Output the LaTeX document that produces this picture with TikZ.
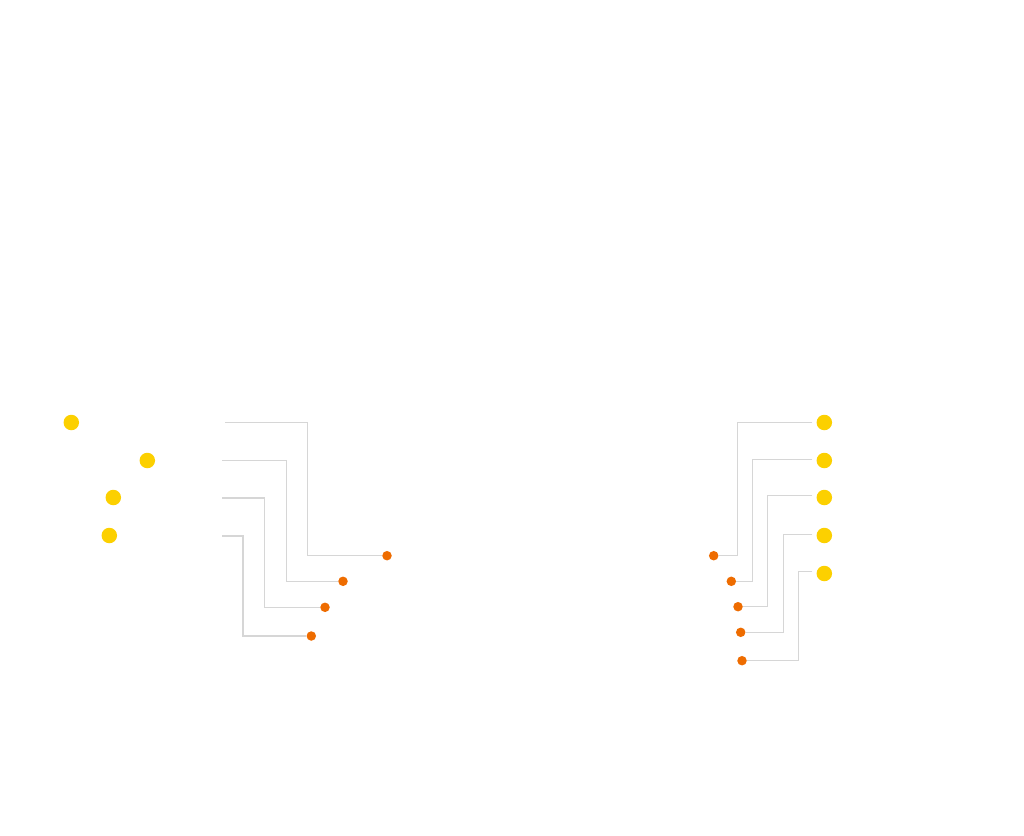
\documentclass[tikz,border=0pt]{standalone}
\begin{document}
\begin{tikzpicture}[x=1pt,y=-1pt,
  bigdot/.style={circle,fill=ydot,draw=none,minimum size=15.5pt,inner sep=0pt},
  smalldot/.style={circle,fill=odot,draw=none,minimum size=9.5pt,inner sep=0pt},
  wire/.style={draw=wiregray,line width=1.1pt}]
\definecolor{ydot}{HTML}{FCD000}
\definecolor{odot}{HTML}{EE6C00}
\definecolor{wiregray}{HTML}{D6D6D6}
\useasboundingbox[fill=white] (0,0) rectangle (1024,835);
% left group
\node[bigdot] (ly1) at (71.3,422.5) {};
\node[bigdot] (ly2) at (147.3,460.5) {};
\node[bigdot] (ly3) at (113.3,497.5) {};
\node[bigdot] (ly4) at (109.3,535.5) {};
\coordinate (ls1) at (225,422.3);
\coordinate (ls2) at (222,460.7);
\coordinate (ls3) at (222,498);
\coordinate (ls4) at (222,536);
\node[smalldot] (lo1) at (387,555.7) {};
\node[smalldot] (lo2) at (343,581.3) {};
\node[smalldot] (lo3) at (325,607.3) {};
\node[smalldot] (lo4) at (311.3,636) {};
\draw[wire] (ls1) -- (307.7,422.3) -- (307.7,555.7) -- (lo1.west);
\draw[wire] (ls2) -- (286.7,460.7) -- (286.7,581.3) -- (lo2.west);
\draw[wire] (ls3) -- (264.3,498) -- (264.3,607.3) -- (lo3.west);
\draw[wire] (ls4) -- (243,536) -- (243,636) -- (lo4.west);
% right group
\node[bigdot] (ry1) at (824.3,422.5) {};
\node[bigdot] (ry2) at (824.3,460.5) {};
\node[bigdot] (ry3) at (824.3,497.5) {};
\node[bigdot] (ry4) at (824.3,535.5) {};
\node[bigdot] (ry5) at (824.3,573.5) {};
\coordinate (rs1) at (812.3,422.3);
\coordinate (rs2) at (812.3,459.3);
\coordinate (rs3) at (812.3,495.7);
\coordinate (rs4) at (812.3,534.7);
\coordinate (rs5) at (812.3,571.7);
\node[smalldot] (ro1) at (713.7,555.7) {};
\node[smalldot] (ro2) at (731.3,581.3) {};
\node[smalldot] (ro3) at (738,606.7) {};
\node[smalldot] (ro4) at (740.7,632.3) {};
\node[smalldot] (ro5) at (742,660.7) {};
\draw[wire] (rs1) -- (737.7,422.3) -- (737.7,555.7) -- (ro1.east);
\draw[wire] (rs2) -- (752.7,459.3) -- (752.7,581.3) -- (ro2.east);
\draw[wire] (rs3) -- (767.7,495.7) -- (767.7,606.7) -- (ro3.east);
\draw[wire] (rs4) -- (783.3,534.7) -- (783.3,632.3) -- (ro4.east);
\draw[wire] (rs5) -- (798.3,571.7) -- (798.3,660.7) -- (ro5.east);
\end{tikzpicture}
\end{document}
